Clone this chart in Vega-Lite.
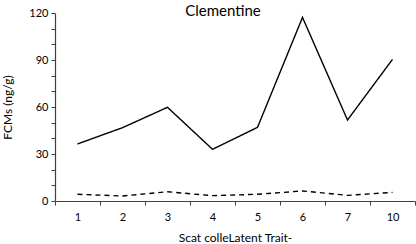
{
  "$schema": "https://vega.github.io/schema/vega-lite/v6.json",
  "width": 360,
  "height": 188,
  "autosize": {"type": "none"},
  "padding": {"left": 55, "top": 13, "right": 1, "bottom": 43},
  "background": "white",
  "config": {"view": {"stroke": null}, "font": "Lato"},
  "title": {"text": "Clementine", "fontSize": 15, "fontWeight": "normal", "font": "Lato", "color": "#000000", "anchor": "middle", "offset": -12, "dx": -12},
  "data": {"values": [
    {"scat": "1", "series": "a", "v": 36.4},
    {"scat": "2", "series": "a", "v": 46.8},
    {"scat": "3", "series": "a", "v": 59.8},
    {"scat": "4", "series": "a", "v": 33},
    {"scat": "5", "series": "a", "v": 47},
    {"scat": "6", "series": "a", "v": 117.2},
    {"scat": "7", "series": "a", "v": 51.7},
    {"scat": "10", "series": "a", "v": 90.4},
    {"scat": "1", "series": "b", "v": 4.3},
    {"scat": "2", "series": "b", "v": 3.2},
    {"scat": "3", "series": "b", "v": 5.9},
    {"scat": "4", "series": "b", "v": 3.4},
    {"scat": "5", "series": "b", "v": 4.3},
    {"scat": "6", "series": "b", "v": 6.4},
    {"scat": "7", "series": "b", "v": 3.6},
    {"scat": "10", "series": "b", "v": 5.5}
  ]},
  "mark": {"type": "line", "color": "#000000", "strokeWidth": 1.4},
  "encoding": {
    "x": {
      "field": "scat", "type": "ordinal", "sort": ["1","2","3","4","5","6","7","10"],
      "bandPosition": 0.5,
      "scale": {"type": "band", "paddingInner": 0, "paddingOuter": 0},
      "axis": {"title": "Scat colleLatent Trait-", "titleFontSize": 12, "titleFontWeight": "normal", "titleColor": "#000000", "titlePadding": 10,
        "labelAngle": 0, "labelFontSize": 11, "labelColor": "#000000", "labelPadding": 6,
        "tickBand": "extent", "tickSize": 4, "tickColor": "#404040", "domainColor": "#404040", "domainWidth": 1.2, "grid": false}
    },
    "y": {
      "field": "v", "type": "quantitative",
      "scale": {"domain": [0, 120], "nice": false},
      "axis": {"title": "FCMs (ng/g)", "titleFontSize": 12, "titleFontWeight": "normal", "titleColor": "#000000", "titlePadding": 14,
        "values": [0,10,20,30,40,50,60,70,80,90,100,110,120],
        "labelExpr": "datum.value % 30 == 0 ? datum.label : ''",
        "labelFontSize": 11, "labelColor": "#000000", "labelPadding": 3,
        "tickSize": 4, "tickColor": "#404040", "domainColor": "#404040", "domainWidth": 1.2, "grid": false}
    },
    "strokeDash": {"field": "series", "type": "nominal", "scale": {"domain": ["a","b"], "range": [[1,0],[5,4]]}, "legend": null}
  }
}
